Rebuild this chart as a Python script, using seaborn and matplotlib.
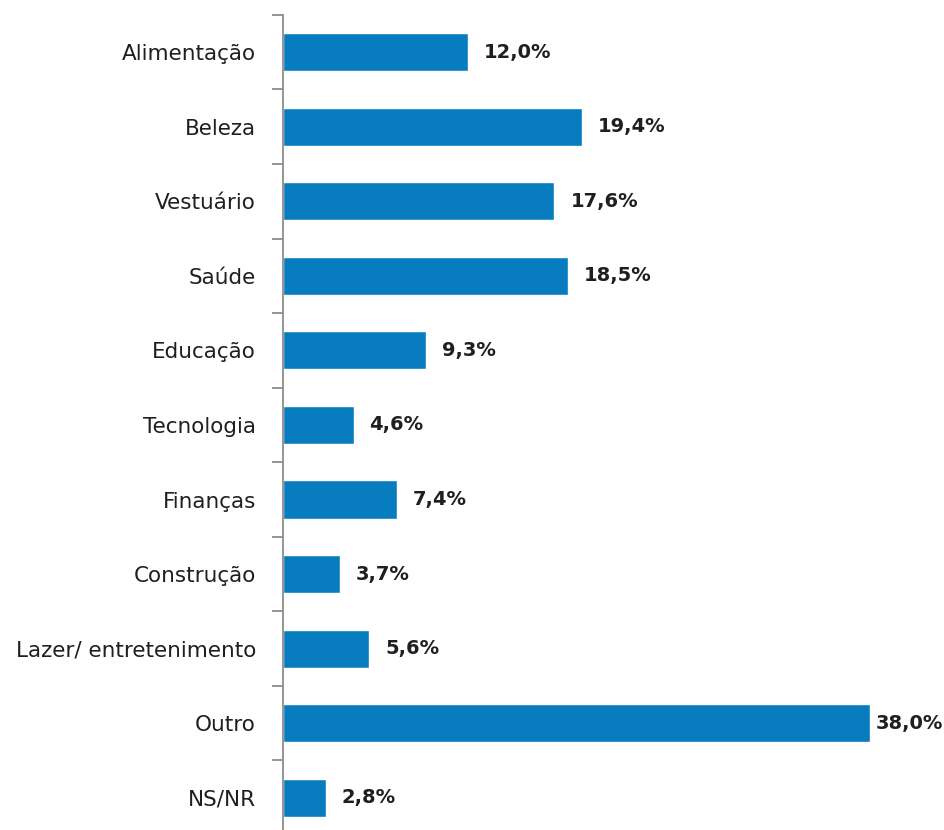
import matplotlib
matplotlib.use("Agg")
import matplotlib.pyplot as plt
import seaborn as sns
import pandas as pd
from matplotlib.ticker import FixedLocator

categories = ["Alimentação", "Beleza", "Vestuário", "Saúde", "Educação", "Tecnologia",
              "Finanças", "Construção", "Lazer/ entretenimento", "Outro", "NS/NR"]
values = [12.0, 19.4, 17.6, 18.5, 9.3, 4.6, 7.4, 3.7, 5.6, 38.0, 2.8]
value_labels = [f"{v:.1f}%".replace(".", ",") for v in values]

sns.set_theme(style="white")
plt.rcParams["font.family"] = ["DejaVu Sans"]

df = pd.DataFrame({"cat": categories, "val": values})

fig = plt.figure(figsize=(9.45, 8.3), dpi=100)
ax = fig.add_axes([282.5 / 945, -0.006, 618 / 945, 0.988])

sns.barplot(data=df, y="cat", x="val", orient="h", color="#077DC0",
            width=0.51, saturation=1, ax=ax)

ax.set_xlim(0, 40)
ax.set_ylim(len(categories) - 0.5, -0.5)
ax.set_xlabel("")
ax.set_ylabel("")
ax.set_xticks([])

for s in ["top", "right", "bottom"]:
    ax.spines[s].set_visible(False)
ax.spines["left"].set_color("#8c8c8c")
ax.spines["left"].set_linewidth(1.3)

ax.tick_params(axis="y", which="major", length=0, pad=19, labelsize=15.5, labelcolor="#1f1f1f")
ax.yaxis.set_minor_locator(FixedLocator([i - 0.5 for i in range(len(categories) + 1)]))
ax.tick_params(axis="y", which="minor", length=8, width=1.3, color="#8c8c8c", direction="out", left=True)

vmax = max(values)
normal = [l if v < vmax else "" for l, v in zip(value_labels, values)]
last = [l if v == vmax else "" for l, v in zip(value_labels, values)]
ax.bar_label(ax.containers[0], labels=normal, padding=11.5,
             fontsize=14, fontweight="bold", color="#1f1f1f")
ax.bar_label(ax.containers[0], labels=last, padding=4.5,
             fontsize=14, fontweight="bold", color="#1f1f1f")

fig.savefig("out.png", dpi=100)
